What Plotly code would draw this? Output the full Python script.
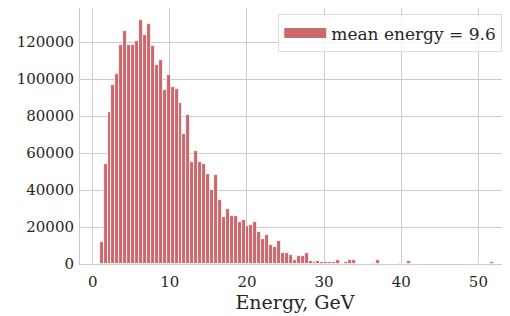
import numpy as np
import plotly.graph_objects as go

# Histogram: 100 bins between min and max energy
e_min = 0.9
e_max = 52.0
n_bins = 100
counts = [
    12000, 54000, 82000, 97000, 102700, 118600, 125800, 118600, 118300, 120500,
    131900, 123800, 129700, 118000, 107600, 110600, 94000, 102200, 95500, 94600,
    86900, 70300, 80600, 55100, 61200, 55400, 54000, 48800, 40000, 48300,
    34700, 25700, 29900, 26100, 26200, 22500, 23900, 20300, 21200, 22700,
    17100, 13700, 15800, 10300, 9400, 12600, 6100, 5900, 5000, 2000,
    4500, 4100, 5800, 1800, 1000, 1600, 1300, 1300, 1300, 900,
    2300, 0, 1100, 2300, 2300, 0, 0, 0, 0, 700,
    2300, 0, 0, 0, 0, 0, 700, 0, 1800, 0,
    0, 0, 0, 0, 0, 0, 0, 200, 0, 0,
    0, 0, 0, 0, 0, 0, 0, 0, 0, 1300,
]
legend_label = "mean energy = 9.6"
x_ticks = [0, 10, 20, 30, 40, 50]
y_ticks = [0, 20000, 40000, 60000, 80000, 100000, 120000]

bar_color = "rgba(196,78,82,0.85)"
bin_width = (e_max - e_min) / n_bins
centers = [e_min + bin_width * (i + 0.5) for i in range(n_bins)]

fig = go.Figure()
fig.add_trace(go.Bar(
    x=centers, y=counts, width=bin_width,
    name=legend_label,
    marker=dict(color=bar_color, line=dict(color="white", width=0.8)),
    showlegend=False,
))
# legend entry drawn as a wide patch
fig.add_trace(go.Scatter(
    x=[None], y=[None], mode="lines", name=legend_label,
    line=dict(color=bar_color, width=13), showlegend=True,
))

font_family = "DejaVu Serif"
fig.update_layout(
    width=502, height=308,
    margin=dict(l=72, r=0, t=0, b=52),
    plot_bgcolor="white", paper_bgcolor="white",
    font=dict(family=font_family, size=14, color="#262626"),
    bargap=0,
    showlegend=True,
    legend=dict(
        x=0.982, y=0.975, xanchor="right", yanchor="top",
        bgcolor="rgba(255,255,255,0.8)", bordercolor="#dddddd", borderwidth=1,
        font=dict(family=font_family, size=17, color="#262626"),
        itemwidth=42,
    ),
    xaxis=dict(
        range=[-1.65, 54.1], tickvals=x_ticks, ticktext=[str(v) for v in x_ticks],
        showgrid=True, gridcolor="#cccccc", gridwidth=1,
        showline=True, linecolor="#cccccc", mirror=True, linewidth=1,
        zeroline=False, ticks="", tickfont=dict(size=15), ticklabelstandoff=4,
        title=dict(text="Energy, GeV", font=dict(size=19), standoff=4),
    ),
    yaxis=dict(
        range=[0, 138500], tickvals=y_ticks, ticktext=[str(v) for v in y_ticks],
        showgrid=True, gridcolor="#cccccc", gridwidth=1,
        showline=True, linecolor="#cccccc", mirror=True, linewidth=1,
        zeroline=False, ticks="", tickfont=dict(size=15), ticklabelstandoff=2,
    ),
)

fig.write_html("out.html")
